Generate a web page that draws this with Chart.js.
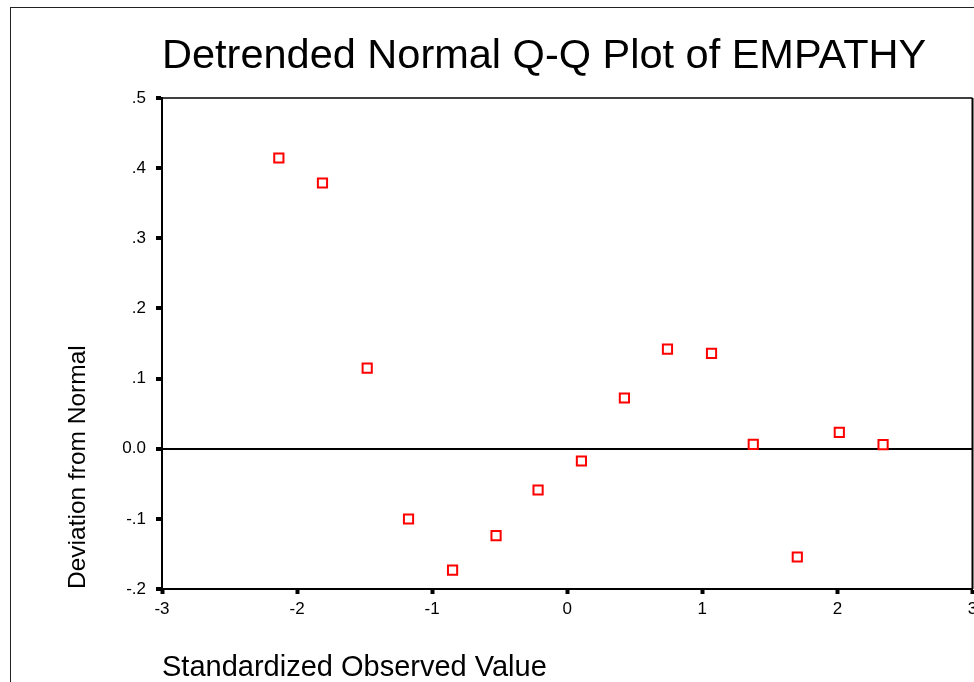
<!DOCTYPE html>
<html lang="en">
<head>
  <meta charset="UTF-8" />
  <title>Detrended Normal Q-Q Plot of EMPATHY</title>
  <script src="https://cdn.jsdelivr.net/npm/chart.js@4.4.1/dist/chart.umd.min.js"></script>
  <style>
    body {
      margin: 0;
      background: #fff;
      overflow: hidden;
    }
    #frame {
      position: absolute;
      left: 10px;
      top: 7px;
      width: 1100px;
      height: 800px;
      border: 1px solid #222;
      pointer-events: none;
    }
    canvas {
      position: absolute;
      left: 0;
      top: 0;
    }
  </style>
</head>
<body>
  <div id="frame"></div>
  <!-- slightly larger than the window so the right edge and bottom title sit where wanted -->
  <canvas id="qq" width="981" height="685"></canvas>
  <script>
    // standardized observed value vs. deviation from normal
    const zValues = [-2.135, -1.812, -1.481, -1.175, -0.849, -0.527, -0.216, 0.105, 0.423, 0.742, 1.068, 1.377, 1.703, 2.014, 2.338];
    const deviations = [0.4145, 0.3788, 0.115, -0.1002, -0.173, -0.124, -0.0589, -0.0175, 0.0723, 0.142, 0.136, 0.0063, -0.1544, 0.0234, 0.0057];

    const xRange = [-3, 3];
    const yRange = [-0.2, 0.5];

    const FONT = "'Liberation Sans', Arial, sans-serif";

    const points = zValues.map((z, i) => ({ x: z, y: deviations[i] }));

    // closes the plot box on the top and right sides
    const plotBox = {
      id: 'plotBox',
      beforeDatasetsDraw(chart) {
        const { ctx, chartArea: a } = chart;
        ctx.save();
        ctx.strokeStyle = '#000';
        ctx.lineWidth = 1.5;
        ctx.beginPath();
        ctx.moveTo(a.left, a.top);
        ctx.lineTo(a.right, a.top);
        ctx.stroke();
        ctx.lineWidth = 2;
        ctx.beginPath();
        ctx.moveTo(a.right, a.top);
        ctx.lineTo(a.right, a.bottom);
        ctx.stroke();
        ctx.restore();
      }
    };

    function yLabel(v) {
      if (Math.abs(v) < 1e-9) return '0.0';
      return v.toFixed(1).replace('0.', '.');
    }

    new Chart(document.getElementById('qq'), {
      type: 'scatter',
      data: {
        datasets: [{
          data: points,
          pointStyle: 'rect',
          pointRadius: 6.5,
          pointHoverRadius: 6.5,
          pointBorderWidth: 2,
          pointBorderColor: '#ff0000',
          pointBackgroundColor: '#ffffff'
        }]
      },
      options: {
        responsive: false,
        animation: false,
        layout: { padding: { left: 64, right: 2, top: 0, bottom: 0 } },
        plugins: {
          legend: { display: false },
          tooltip: { enabled: false },
          title: {
            display: true,
            text: 'Detrended Normal Q-Q Plot of EMPATHY',
            align: 'start',
            fullSize: false,
            color: '#000',
            font: { family: FONT, size: 41.5, weight: 'normal' },
            padding: { top: 32, bottom: 16.2 }
          }
        },
        scales: {
          x: {
            type: 'linear',
            min: xRange[0],
            max: xRange[1],
            ticks: {
              stepSize: 1,
              color: '#000',
              padding: 5,
              maxRotation: 0,
              font: { family: FONT, size: 17 }
            },
            grid: {
              drawOnChartArea: false,
              tickColor: '#000',
              tickWidth: 4,
              tickLength: 5
            },
            border: { color: '#000', width: 2 },
            title: {
              display: true,
              text: 'Standardized Observed Value',
              align: 'start',
              color: '#000',
              font: { family: FONT, size: 29 },
              padding: { top: 0, bottom: 0 }
            },
            afterFit(scale) {
              scale.height = 96;
              scale.paddingLeft = 0;
              scale.paddingRight = 0;
            }
          },
          y: {
            min: yRange[0],
            max: yRange[1],
            ticks: {
              stepSize: 0.1,
              color: '#000',
              padding: 10,
              font: { family: FONT, size: 17 },
              callback: (v) => yLabel(v)
            },
            grid: {
              color: (c) => Math.abs(c.tick.value) < 1e-9 ? '#000' : 'rgba(0,0,0,0)',
              lineWidth: (c) => Math.abs(c.tick.value) < 1e-9 ? 2 : 0,
              tickColor: '#000',
              tickWidth: 4,
              tickLength: 6
            },
            border: { color: '#000', width: 2 },
            title: {
              display: true,
              text: 'Deviation from Normal',
              align: 'start',
              color: '#000',
              font: { family: FONT, size: 24.5 },
              padding: { top: 0, bottom: 0 }
            },
            afterFit(scale) {
              scale.width = 98;
            }
          }
        }
      },
      plugins: [plotBox]
    });
  </script>
</body>
</html>
